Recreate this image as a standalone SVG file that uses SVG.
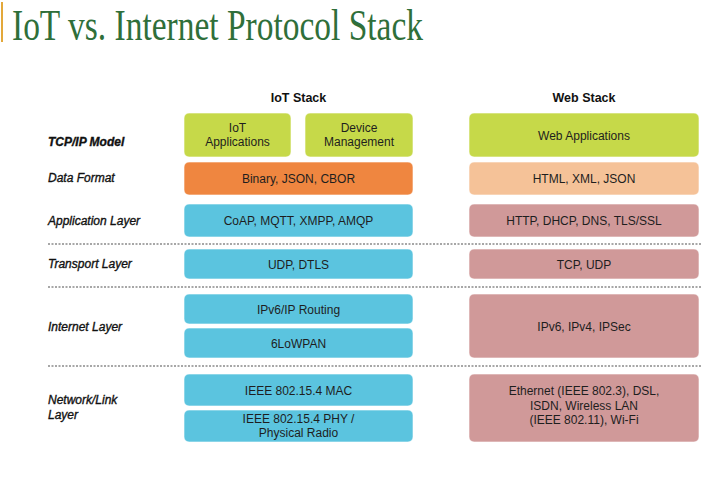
<svg xmlns="http://www.w3.org/2000/svg" width="717" height="501" viewBox="0 0 717 501">
<style>
.bx{stroke:#ffffff;stroke-opacity:0.6;stroke-width:1}
.g{fill:#c6d949}
.o{fill:#ef8640}
.b{fill:#5bc4df}
.p{fill:#f5c298}
.r{fill:#d09999}
.t{font-family:"Liberation Sans",Arial,sans-serif;font-size:12px;fill:#1e1e1e;text-anchor:middle}
.lb{font-family:"Liberation Sans",Arial,sans-serif;font-size:12px;font-style:italic;fill:#111;stroke:#111;stroke-width:0.35}
.hd{font-family:"Liberation Sans",Arial,sans-serif;font-size:12.5px;font-weight:bold;fill:#111;text-anchor:middle}
.sep{stroke:#8a8a8a;stroke-width:1.5;stroke-dasharray:2 1.5;fill:none}
</style>
<rect width="717" height="501" fill="#ffffff"/>
<rect x="1" y="2" width="2" height="40" fill="#e3a83a"/>
<text x="12" y="40" font-family="'Liberation Serif','Times New Roman',serif" font-size="44" fill="#2f6f3a" textLength="411" lengthAdjust="spacingAndGlyphs">IoT vs. Internet Protocol Stack</text>

<g id="headers">
<text class="hd" x="298.5" y="102">IoT Stack</text>
<text class="hd" x="584" y="102">Web Stack</text>
</g>

<g id="layer-labels">
<text class="lb" x="48" y="146" font-weight="bold" stroke-width="0">TCP/IP Model</text>
<text class="lb" x="48" y="182">Data Format</text>
<text class="lb" x="48" y="225">Application Layer</text>
<text class="lb" x="48" y="268">Transport Layer</text>
<text class="lb" x="48" y="331">Internet Layer</text>
<text class="lb" x="48" y="404">Network/Link</text>
<text class="lb" x="48" y="419">Layer</text>
</g>

<g id="separators">
<line class="sep" x1="48" y1="244" x2="702" y2="244"/>
<line class="sep" x1="48" y1="287" x2="702" y2="287"/>
<line class="sep" x1="48" y1="366" x2="702" y2="366"/>
</g>

<g id="iot-applications"><rect class="bx g" x="184" y="113" width="107" height="44" rx="5"/><text class="t" x="237.5" y="132">IoT</text><text class="t" x="237.5" y="146">Applications</text></g>
<g id="device-management"><rect class="bx g" x="305" y="113" width="108" height="44" rx="5"/><text class="t" x="359" y="132">Device</text><text class="t" x="359" y="146">Management</text></g>
<g id="iot-data-format"><rect class="bx o" x="184" y="162" width="229" height="33" rx="5"/><text class="t" x="298.5" y="183">Binary, JSON, CBOR</text></g>
<g id="iot-application-layer"><rect class="bx b" x="184" y="204" width="229" height="33" rx="5"/><text class="t" x="298.5" y="225">CoAP, MQTT, XMPP, AMQP</text></g>
<g id="iot-transport"><rect class="bx b" x="184" y="249" width="229" height="30" rx="5"/><text class="t" x="298.5" y="268.5">UDP, DTLS</text></g>
<g id="iot-ipv6-routing"><rect class="bx b" x="184" y="294" width="229" height="30" rx="5"/><text class="t" x="298.5" y="313.5">IPv6/IP Routing</text></g>
<g id="iot-6lowpan"><rect class="bx b" x="184" y="328" width="229" height="30" rx="5"/><text class="t" x="298.5" y="347.5">6LoWPAN</text></g>
<g id="iot-mac"><rect class="bx b" x="184" y="374" width="229" height="32" rx="5"/><text class="t" x="298.5" y="394.5">IEEE 802.15.4 MAC</text></g>
<g id="iot-phy"><rect class="bx b" x="184" y="410" width="229" height="32" rx="5"/><text class="t" x="298.5" y="423">IEEE 802.15.4 PHY /</text><text class="t" x="298.5" y="437">Physical Radio</text></g>

<g id="web-applications"><rect class="bx g" x="469" y="113" width="230" height="44" rx="5"/><text class="t" x="584" y="139.5">Web Applications</text></g>
<g id="web-data-format"><rect class="bx p" x="469" y="162" width="230" height="33" rx="5"/><text class="t" x="584" y="183">HTML, XML, JSON</text></g>
<g id="web-application-layer"><rect class="bx r" x="469" y="204" width="230" height="33" rx="5"/><text class="t" x="584" y="225">HTTP, DHCP, DNS, TLS/SSL</text></g>
<g id="web-transport"><rect class="bx r" x="469" y="249" width="230" height="30" rx="5"/><text class="t" x="584" y="268.5">TCP, UDP</text></g>
<g id="web-internet"><rect class="bx r" x="469" y="294" width="230" height="64" rx="5"/><text class="t" x="584" y="330.5">IPv6, IPv4, IPSec</text></g>
<g id="web-link"><rect class="bx r" x="469" y="374" width="230" height="68" rx="5"/><text class="t" x="584" y="395">Ethernet (IEEE 802.3), DSL,</text><text class="t" x="584" y="409.5">ISDN, Wireless LAN</text><text class="t" x="584" y="424">(IEEE 802.11), Wi-Fi</text></g>
</svg>
